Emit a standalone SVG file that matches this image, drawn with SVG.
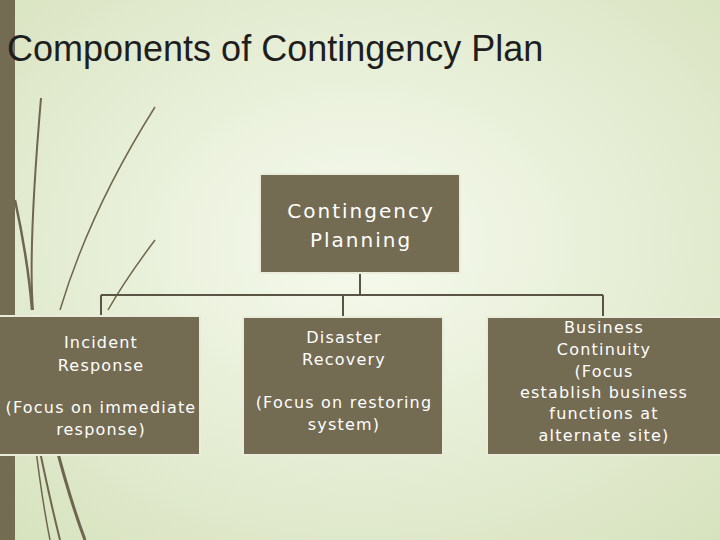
<svg xmlns="http://www.w3.org/2000/svg" width="720" height="540" viewBox="0 0 720 540">
<defs>
<radialGradient id="bg" cx="0.5" cy="0.45" r="0.75">
<stop offset="0" stop-color="#f6faee"/><stop offset="1" stop-color="#d6e2bd"/>
</radialGradient>
<style>
.box{fill:#746b53;stroke:#e8ecd8;stroke-width:2}
.t{font-family:"DejaVu Sans",Verdana,sans-serif;font-size:16px;letter-spacing:1.2px;fill:#ffffff;text-anchor:middle}
.h{font-size:20px;letter-spacing:2px}
.c{stroke:#5a5444;stroke-width:2;fill:none}
.d{fill:none;stroke:#6e6650}
</style>
</defs>
<rect width="720" height="540" fill="url(#bg)"/>
<rect x="0" y="0" width="15" height="540" fill="#746b53"/>
<g id="decor">
<path class="d" stroke-width="2" d="M41 98 Q28 250 33 310"/>
<path class="d" stroke-width="2.5" d="M15 200 Q28 260 32 310"/>
<path class="d" stroke-width="1.5" stroke="#c9d2b6" d="M155 107 Q90 210 60 310"/>
<path class="d" stroke-width="1.5" d="M155 240 Q125 280 108 310"/>
<path class="d" stroke-width="3" d="M55 442 Q70 500 85 540"/>
<path class="d" stroke-width="2" d="M38 442 Q50 500 60 540"/>
<path class="d" stroke-width="1.5" stroke="#b9c2a6" d="M35 442 Q42 500 50 540"/>
</g>
<text x="7" y="61" font-family="Liberation Sans,Arial,sans-serif" font-size="36" fill="#1e1e1e">Components of Contingency Plan</text>
<g id="connectors">
<path class="c" d="M360 273V295M101 295H603M101 295V316M343 295V316M603 295V316"/>
</g>
<g id="n0"><rect class="box" x="260" y="174" width="200" height="99"/>
<text class="t h" x="361" y="218">Contingency</text>
<text class="t h" x="361" y="247">Planning</text></g>
<g id="n1"><rect class="box" x="-1" y="316" width="201" height="139"/>
<text class="t" x="101" y="348">Incident</text>
<text class="t" x="101" y="371">Response</text>
<text class="t" x="101" y="413">(Focus on immediate</text>
<text class="t" x="101" y="435">response)</text></g>
<g id="n2"><rect class="box" x="243" y="317" width="200" height="138"/>
<text class="t" x="344" y="343">Disaster</text>
<text class="t" x="344" y="365">Recovery</text>
<text class="t" x="344" y="408">(Focus on restoring</text>
<text class="t" x="344" y="430">system)</text></g>
<g id="n3"><rect class="box" x="487" y="317" width="234" height="138"/>
<text class="t" x="604" y="333">Business</text>
<text class="t" x="604" y="355">Continuity</text>
<text class="t" x="604" y="377">(Focus</text>
<text class="t" x="604" y="398">establish business</text>
<text class="t" x="604" y="419">functions at</text>
<text class="t" x="604" y="441">alternate site)</text></g>
</svg>
